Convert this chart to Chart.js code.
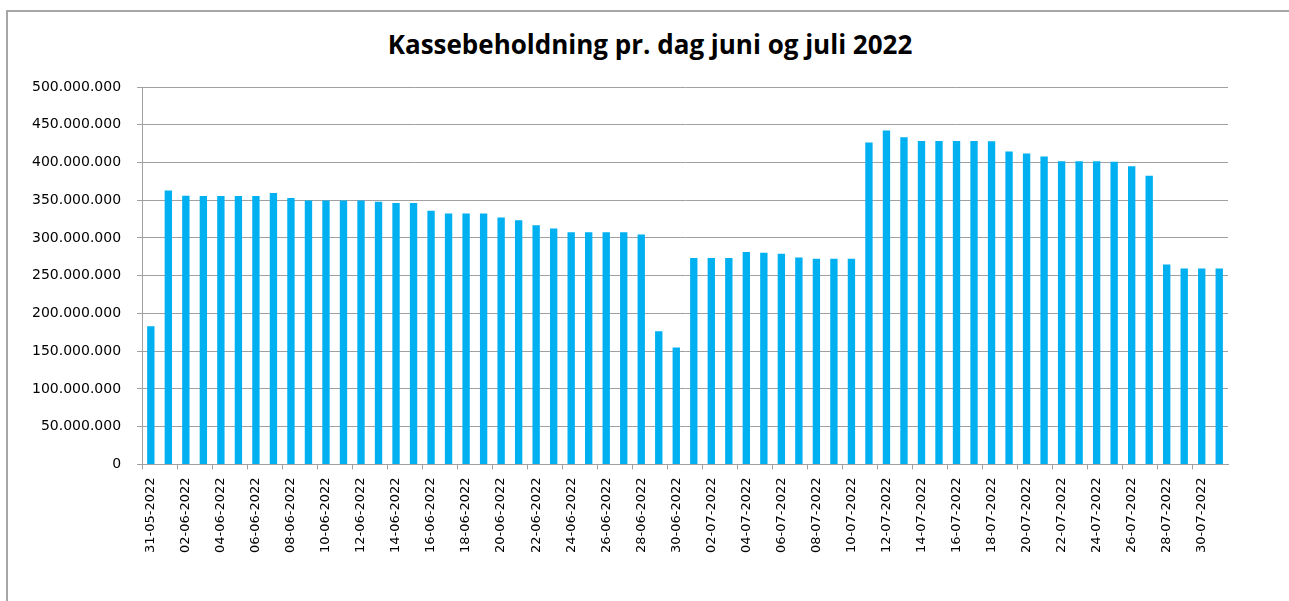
<!DOCTYPE html>
<html>
<head>
<meta charset="utf-8">
<script src="https://cdn.jsdelivr.net/npm/chart.js@4/dist/chart.umd.min.js"></script>
<style>
  body { margin: 0; background: #fff; }
  #frame { position: absolute; left: 6px; top: 10px; width: 1400px; height: 700px; border-left: 2px solid #a6a6a6; border-top: 2px solid #a6a6a6; }
  #wrap { position: absolute; left: 0; top: 0; width: 1289px; height: 601px; }
  #title { position: absolute; left: 0; width: 1300px; top: 29px; text-align: center; font: bold 26px/31px 'Open Sans', sans-serif; color: #000; }
</style>
</head>
<body>
<div id="frame"></div>
<div id="title">Kassebeholdning pr. dag juni og juli 2022</div>
<div id="wrap"><canvas id="cashChart"></canvas></div>
<script>
// Dates 31-05-2022 .. 31-07-2022
const dates = []
for (let i = 0; i < 62; i++) {
  const d = new Date(2022, 4, 31 + i)
  const dd = String(d.getDate()).padStart(2, '0')
  const mm = String(d.getMonth() + 1).padStart(2, '0')
  dates.push(dd + '-' + mm + '-' + d.getFullYear())
}

// Cash balance per day
const juneBalance = [
  183000000, // 31-05
  363000000, 356000000, 355500000, 355500000, 355500000, 355500000, 359500000, 353000000, 349500000, 349500000,
  349500000, 349500000, 348000000, 346500000, 346500000, 336000000, 332500000, 332500000, 332500000, 327000000,
  323500000, 317000000, 312500000, 307500000, 307500000, 307500000, 307500000, 304500000, 176500000, 155000000,
]
const julyBalance = [
  273500000, 273500000, 273500000, 281500000, 280500000, 279000000, 274000000, 272500000, 272500000, 272500000,
  426500000, 442500000, 433500000, 428500000, 428500000, 428500000, 428500000, 428000000, 414500000, 412000000,
  408000000, 401500000, 401500000, 401500000, 401000000, 395000000, 382500000, 265000000, 259500000, 259500000,
  259500000,
]
const balance = juneBalance.concat(julyBalance)

// Danish style thousand separators
function fmt(v) {
  return String(v).replace(/\B(?=(\d{3})+(?!\d))/g, '.')
}

const gridGray = '#a0a0a0'

const ctx = document.getElementById('cashChart').getContext('2d')
new Chart(ctx, {
  type: 'bar',
  data: {
    labels: dates,
    datasets: [
      {
        label: 'Kassebeholdning',
        data: balance,
        backgroundColor: '#00b0f0',
        barPercentage: 0.42,
        categoryPercentage: 1,
      },
    ],
  },
  options: {
    responsive: true,
    maintainAspectRatio: false,
    animation: false,
    layout: {
      padding: { left: 16, right: 61, top: 87, bottom: 40 },
    },
    plugins: {
      legend: { display: false },
      tooltip: { enabled: false },
      title: { display: false },
    },
    scales: {
      x: {
        offset: true,
        grid: {
          offset: true,
          drawOnChartArea: false,
          tickLength: 5,
          tickColor: (c) => (c.index % 2 === 0 ? gridGray : 'rgba(0,0,0,0)'),
        },
        border: { color: gridGray, width: 1 },
        ticks: {
          autoSkip: false,
          maxRotation: 90,
          minRotation: 90,
          color: '#000',
          font: { family: 'DejaVu Sans', size: 13 },
          padding: 8,
          callback: function (val, index) {
            return index % 2 === 0 ? this.getLabelForValue(val) : ''
          },
        },
      },
      y: {
        min: 0,
        max: 500000000,
        ticks: {
          stepSize: 50000000,
          color: '#000',
          font: { family: 'DejaVu Sans', size: 14 },
          padding: 16,
          callback: (v) => fmt(v),
        },
        grid: { color: gridGray, tickLength: 5, lineWidth: 1 },
        border: { color: gridGray, width: 1 },
      },
    },
  },
})
</script>
</body>
</html>
